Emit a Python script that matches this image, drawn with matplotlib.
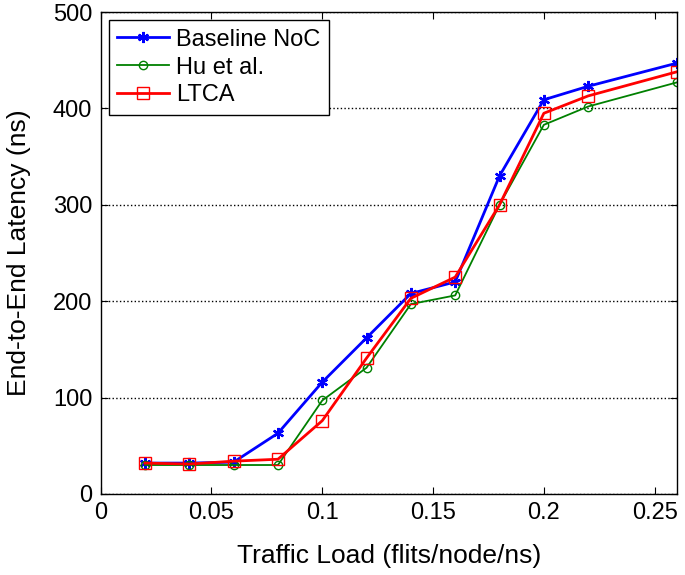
import numpy as np
import matplotlib
matplotlib.use('Agg')
import matplotlib.pyplot as plt

plt.rcParams['font.family'] = ['Liberation Sans', 'DejaVu Sans']

load = [0.02, 0.04, 0.06, 0.08, 0.10, 0.12, 0.14, 0.16, 0.18, 0.20, 0.22, 0.26]
baseline = [32, 32, 33, 63, 116, 162, 208, 220, 330, 409, 423, 447]
hu = [30, 30, 30, 30, 97, 131, 197, 206, 300, 383, 402, 427]
ltca = [32, 31, 34, 36, 76, 141, 203, 225, 300, 395, 413, 438]

fig = plt.figure(figsize=(6.85, 5.75), dpi=100)
ax = fig.add_axes([0.147, 0.141, 0.841, 0.838])

# MATLAB-style asterisk marker for the baseline
ax.plot(load, baseline, color='#0000ff', marker=(6, 2, 0), markersize=8, mew=1.6, lw=2, label='Baseline NoC')
ax.plot(load, hu, color='#008000', marker='o', markersize=6, mfc='none', lw=1.3, label='Hu et al.')
ax.plot(load, ltca, color='#ff0000', marker='s', markersize=8, mfc='none', lw=2, label='LTCA')

ax.set_xlim(0, 0.26)
ax.set_ylim(0, 500)
ax.set_xticks([0, 0.05, 0.1, 0.15, 0.2, 0.25])
ax.set_xticklabels(['0', '0.05', '0.1', '0.15', '0.2', '0.25'])
ax.set_yticks([0, 100, 200, 300, 400, 500])
ax.yaxis.grid(True, linestyle=':', color='black', lw=1)
ax.tick_params(direction='in', top=True, right=True, labelsize=17, length=5, pad=6)
for s in ax.spines.values():
    s.set_linewidth(1)

ax.set_xlabel('Traffic Load (flits/node/ns)', fontsize=19, labelpad=14)
ax.set_ylabel('End-to-End Latency (ns)', fontsize=19, labelpad=16)

leg = ax.legend(loc='upper left', fontsize=17, fancybox=False, edgecolor='black',
                framealpha=1, handlelength=2.2, handletextpad=0.3,
                borderaxespad=0.35, labelspacing=0.25, borderpad=0.35)
leg.get_frame().set_linewidth(1)

fig.savefig('out.png', dpi=100)
